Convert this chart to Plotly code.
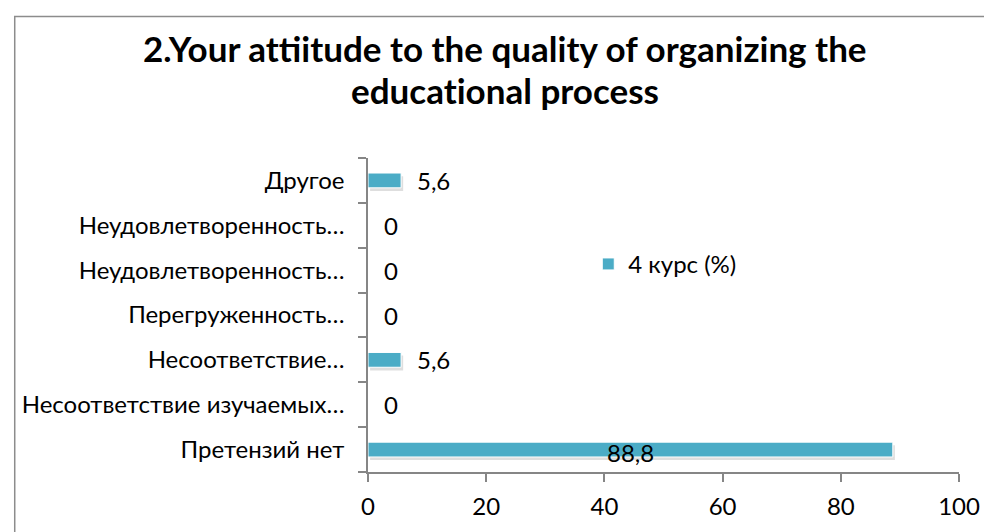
import plotly.graph_objects as go

categories = [
    "Претензий нет",
    "Несоответствие изучаемых…",
    "Несоответствие…",
    "Перегруженность…",
    "Неудовлетворенность…",
    "Неудовлетворенность…\u200b",
    "Другое",
]
values = [88.8, 0, 5.6, 0, 0, 0, 5.6]
series_name = "4 курс (%)"
x_ticks = [0, 20, 40, 60, 80, 100]
title_lines = ["2.Your at\u200cti\u200cit\u200cude to the quality of organizing the",
               "educat\u200cional process"]

labels = [f"{v:g}".replace(".", ",") for v in values]

BAR = "#4BACC6"
FONT = "Lato, Carlito, Calibri, sans-serif"
FS = 24

# figure size (page body adds an 8px margin)
FW, FH = 984, 524
# plot area in figure px
L, R, T, B = 360, 961, 150, 466
W, H = R - L, B - T
def px(xp): return (xp - L) / W
def py(yp): return (B - yp) / H

fig = go.Figure()
# soft shadow
fig.add_trace(go.Bar(
    y=categories, x=values, orientation="h", base=0.35,
    width=0.33, offset=-0.165 - 0.07,
    marker=dict(color="rgba(0,0,0,0.13)", line=dict(width=0)),
    showlegend=False, hoverinfo="skip",
))
fig.add_trace(go.Bar(
    y=categories, x=values, orientation="h", name=series_name,
    width=0.33, offset=-0.165,
    marker=dict(color=BAR, line=dict(color="white", width=1)),
))

for c, v, t in zip(categories, values, labels):
    if v > 50:
        fig.add_annotation(x=v / 2, y=c, text=t, showarrow=False, xanchor="center",
                           yshift=-3, font=dict(size=FS, color="black", family=FONT))
    else:
        fig.add_annotation(x=v, y=c, text=t, showarrow=False, xanchor="left",
                           xshift=14, font=dict(size=FS, color="black", family=FONT))

for line, ypix in zip(title_lines, [39, 82]):
    fig.add_annotation(xref="paper", yref="paper", x=px(499), y=py(ypix), text=f"<b>{line}</b>",
                       showarrow=False, xanchor="center", yanchor="middle",
                       font=dict(size=35, color="black", family=FONT))

fig.add_shape(type="rect", xref="paper", yref="paper",
              x0=px(0.75), y0=py(560), x1=px(1010), y1=py(7.5),
              line=dict(color="#8c8c8c", width=1.5), fillcolor="rgba(0,0,0,0)", layer="below")

fig.update_layout(
    width=FW, height=FH,
    margin=dict(l=L, r=FW - R, t=T, b=FH - B, pad=0),
    paper_bgcolor="white", plot_bgcolor="white",
    barmode="overlay",
    font=dict(family=FONT, size=FS, color="black"),
    showlegend=True,
    legend=dict(x=px(584), y=py(257), xanchor="left", yanchor="middle",
                font=dict(size=FS), bgcolor="rgba(0,0,0,0)", itemwidth=30),
    xaxis=dict(range=[0, 100], tickvals=x_ticks, showgrid=False, zeroline=False,
               showline=True, linecolor="#868686", linewidth=1.5,
               ticks="outside", ticklen=8, tickcolor="#868686", tickwidth=1.5,
               tickfont=dict(size=FS), ticklabelstandoff=4),
    yaxis=dict(type="category", categoryorder="array", categoryarray=categories,
               showgrid=False, zeroline=False,
               showline=True, linecolor="#868686", linewidth=1.5,
               ticks="outside", ticklen=8, tickcolor="#868686", tickwidth=1.5,
               tickson="boundaries", tickfont=dict(size=FS), ticklabelstandoff=17),
)

fig.write_html("out.html")
